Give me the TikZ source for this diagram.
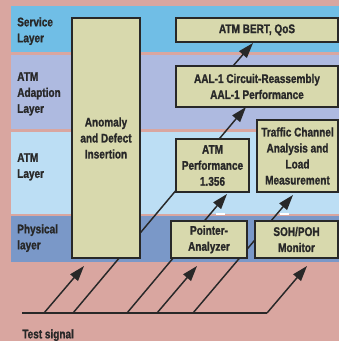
\documentclass[tikz,border=0pt]{standalone}
\usepackage{fontspec}
\setmainfont{Liberation Sans}[FakeStretch=0.8, BoldFeatures={FakeBold=1.2}]
\usetikzlibrary{arrows.meta}
\definecolor{bgpink}{RGB}{217,166,160}
\definecolor{svcblue}{RGB}{112,190,230}
\definecolor{aallav}{RGB}{174,186,224}
\definecolor{atmblue}{RGB}{188,222,244}
\definecolor{phyblue}{RGB}{122,152,200}
\definecolor{boxfill}{RGB}{216,217,173}
\definecolor{ink}{RGB}{40,40,40}
\newcommand\lblfont{\bfseries\fontsize{9.4}{12}\selectfont}
\begin{document}
\begin{tikzpicture}[x=0.75pt,y=-0.75pt,
  box/.style={draw=ink, line width=1.1pt, fill=boxfill, align=center, font=\lblfont, text=ink, inner sep=0pt},
  lbl/.style={anchor=north west, align=left, font=\lblfont, text=ink, inner sep=0pt},
  sig/.style={line width=1.1pt, draw=ink},
  arr/.style={sig, -{Triangle[length=11.5pt,width=7.5pt]}}]
\useasboundingbox (0,0) rectangle (339,341);
% background and layer bands
\fill[bgpink] (0,0) rectangle (339,341);
\fill[svcblue] (11,6) rectangle (339,52);
\fill[aallav] (11,55) rectangle (339,129);
\fill[atmblue] (11,132) rectangle (339,214);
\fill[phyblue] (11,216) rectangle (339,262);
\fill[white] (216,212.8) rectangle (225,214.6);
\fill[white] (280,212.8) rectangle (289,214.6);
% layer labels
\node[lbl] (lsvc) at (17,17) {Service\\Layer};
\node[lbl] (laal) at (17,72) {ATM\\Adaption\\Layer};
\node[lbl] (latm) at (17,153) {ATM\\Layer};
\node[lbl] (lphy) at (17,224) {Physical\\layer};
\node[lbl] (ltest) at (22,329) {Test signal};
% connector end points
\coordinate (b0) at (22,313);
\coordinate (s1) at (44,313);  \coordinate (t1) at (84,266);
\coordinate (s2) at (73,313);  \coordinate (t2) at (246,107);
\coordinate (s3) at (127,313); \coordinate (t3) at (227,194);
\coordinate (s4) at (157,313); \coordinate (t4) at (197,266);
\coordinate (s5) at (193,313); \coordinate (t5) at (293,195);
\coordinate (s6) at (267,313); \coordinate (t6) at (307,266);
\coordinate (s7) at (233,66);  \coordinate (t7) at (253,43);
% connectors
\draw[sig] (b0) -- (s6);
\draw[arr] (s1) -- (t1);
\draw[arr] (s2) -- (t2);
\draw[arr] (s3) -- (t3);
\draw[arr] (s4) -- (t4);
\draw[arr] (s5) -- (t5);
\draw[arr] (s6) -- (t6);
\draw[arr] (s7) -- (t7);
% boxes
\node[box, minimum width={68*0.75pt}, minimum height={240*0.75pt}] (anom) at (106,138) {Anomaly\\and Defect\\Insertion};
\node[box, minimum width={162*0.75pt}, minimum height={24*0.75pt}] (bert) at (257,30) {ATM BERT, QoS};
\node[box, minimum width={162*0.75pt}, minimum height={41*0.75pt}] (aal) at (257,86.5) {AAL-1 Circuit-Reassembly\\AAL-1 Performance};
\node[box, minimum width={81*0.75pt}, minimum height={72*0.75pt}] (traf) at (297.5,156) {Traffic Channel\\Analysis and\\Load\\Measurement};
\node[box, minimum width={73*0.75pt}, minimum height={53*0.75pt}] (perf) at (212.5,165.5) {ATM\\Performance\\1.356};
\node[box, minimum width={76*0.75pt}, minimum height={37*0.75pt}] (ptr) at (209,239.5) {Pointer-\\Analyzer};
\node[box, minimum width={83*0.75pt}, minimum height={37*0.75pt}] (soh) at (296.5,239.5) {SOH/POH\\Monitor};
\end{tikzpicture}
\end{document}
